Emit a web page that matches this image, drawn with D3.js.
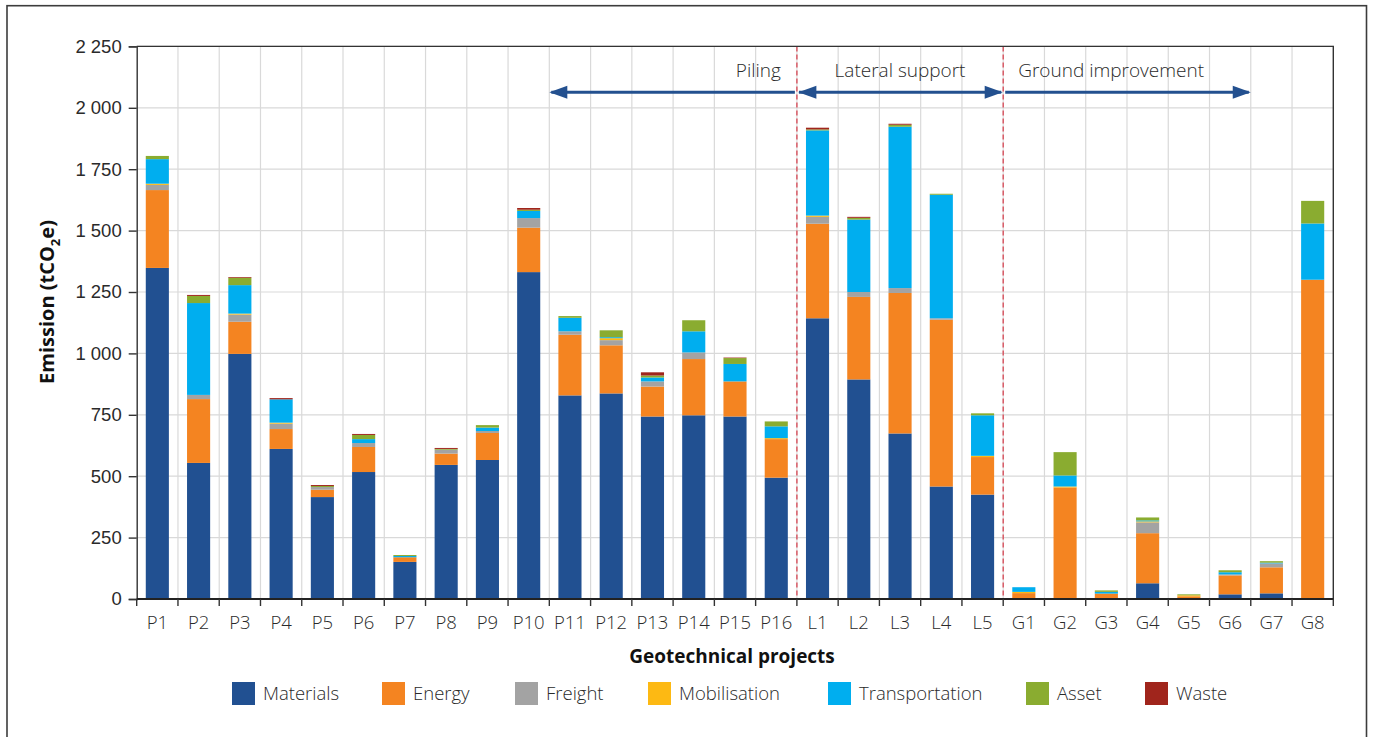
<!DOCTYPE html>
<html>
<head>
<meta charset="utf-8">
<script src="https://cdn.jsdelivr.net/npm/d3@7"></script>
<style>
  html, body { margin: 0; padding: 0; background: #fff; }
  svg { display: block; font-family: "Open Sans", "Noto Sans", sans-serif; }
</style>
</head>
<body>
<svg id="chart" width="1373" height="737"></svg>
<script>
// Geotechnical projects and emission breakdown (tCO2e)
const categories = ["P1","P2","P3","P4","P5","P6","P7","P8","P9","P10","P11","P12","P13","P14","P15","P16",
  "L1","L2","L3","L4","L5","G1","G2","G3","G4","G5","G6","G7","G8"];

const seriesNames = ["Materials","Energy","Freight","Mobilisation","Transportation","Asset","Waste"];
const seriesColors = ["#215091","#f48421","#a3a3a3","#fdb913","#00aeef","#8aac30","#a0251c"];

const materials      = [1348,554,998,611,415,517,151,546,566,1331,829,837,743,748,743,494,1143,894,674,458,425,0,0,0,64,0,19,23,0];
const energy         = [317,260,131,81,30,102,19,46,110,181,247,196,122,229,143,157,385,336,572,679,153,24,454,22,204,11,77,106,1300];
const freight        = [21,17,29,22,11,16,0,16,8,39,14,21,21,27,0,0,28,20,20,6,0,0,0,0,44,0,4,16,0];
const mobilisation   = [5,0,4,4,0,0,0,0,0,0,0,8,0,0,0,4,5,0,0,0,5,5,4,0,4,4,0,0,0];
const transportation = [100,374,116,95,0,16,5,0,14,29,55,4,16,86,71,48,347,295,657,503,165,19,45,7,4,0,9,3,229];
const asset          = [13,29,30,0,4,17,4,3,10,5,7,28,8,45,24,20,4,7,8,4,8,0,95,6,12,4,8,6,92];
const waste          = [0,4,3,5,4,4,0,4,0,7,0,0,13,0,2,0,7,4,4,0,0,0,0,0,0,0,0,0,0];

const yTicks = [0,250,500,750,1000,1250,1500,1750,2000,2250];

// Project groups: label, first and last category covered by the arrow
const groupNames  = ["Piling","Lateral support","Ground improvement"];
const groupRanges = [["P11","P16"],["L1","L5"],["G1","G6"]];

const seriesValues = [materials, energy, freight, mobilisation, transportation, asset, waste];
const rows = categories.map((c, i) => {
  const r = { category: c };
  seriesNames.forEach((s, k) => r[s] = seriesValues[k][i]);
  return r;
});

const svg = d3.select("#chart");
const M = { left: 136.7, right: 1333.3, top: 46.4, bottom: 599 };

const x = d3.scaleBand().domain(categories).range([M.left, M.right]).paddingInner(0.44).paddingOuter(0.22);
const y = d3.scaleLinear().domain([0, 2250]).range([M.bottom, M.top]);
const bx = i => M.left + i * (M.right - M.left) / categories.length;
const fmt = d3.formatLocale({ decimal: ".", thousands: " ", grouping: [3], currency: ["", ""] }).format(",d");

// Outer frame
svg.append("rect").attr("x", 7).attr("y", 5.7).attr("width", 1359.5).attr("height", 760)
  .attr("fill", "none").attr("stroke", "#3c3c3c").attr("stroke-width", 1.6);

// Grid
const grid = svg.append("g");
grid.selectAll("line.h").data(yTicks.slice(1)).join("line")
  .attr("x1", M.left).attr("x2", M.right).attr("y1", d => y(d)).attr("y2", d => y(d))
  .attr("stroke", "#d9d9d9").attr("stroke-width", 1.2);
grid.selectAll("line.v").data(d3.range(1, categories.length)).join("line")
  .attr("x1", i => bx(i)).attr("x2", i => bx(i)).attr("y1", M.top).attr("y2", M.bottom)
  .attr("stroke", "#d9d9d9").attr("stroke-width", 1.2);

// Stacked bars
const stack = d3.stack().keys(seriesNames)(rows);
svg.append("g").selectAll("g").data(stack).join("g")
  .attr("fill", (d, k) => seriesColors[k])
  .selectAll("rect").data(d => d).join("rect")
  .attr("x", d => x(d.data.category))
  .attr("width", x.bandwidth())
  .attr("y", d => y(d[1]))
  .attr("height", d => Math.max(0, y(d[0]) - y(d[1])));

// Group separators
const sepIdx = [categories.indexOf("L1"), categories.indexOf("G1")];
svg.append("g").selectAll("line").data(sepIdx).join("line")
  .attr("x1", i => bx(i)).attr("x2", i => bx(i)).attr("y1", M.top).attr("y2", M.bottom)
  .attr("stroke", "#d9525e").attr("stroke-width", 1.4).attr("stroke-dasharray", "5,3");

// Plot frame (top and right)
svg.append("path")
  .attr("d", `M${M.left},${M.top}H${M.right}V${M.bottom}`)
  .attr("fill", "none").attr("stroke", "#333").attr("stroke-width", 1.4);

// Y axis
const yAxis = svg.append("g").attr("transform", `translate(${M.left},0)`)
  .call(d3.axisLeft(y).tickValues(yTicks).tickFormat(fmt).tickSize(8).tickPadding(7));
yAxis.select(".domain").attr("stroke", "#333").attr("stroke-width", 1.4);
yAxis.selectAll(".tick line").attr("stroke", "#333").attr("stroke-width", 1.4);
yAxis.selectAll(".tick text").attr("font-size", 18.5).attr("fill", "#2a2a2a").attr("font-weight", 300);

// X axis: ticks at category boundaries
const xAxisG = svg.append("g");
xAxisG.append("line").attr("x1", M.left).attr("x2", M.right).attr("y1", M.bottom).attr("y2", M.bottom)
  .attr("stroke", "#222").attr("stroke-width", 2);
xAxisG.selectAll("line.t").data(d3.range(0, categories.length + 1)).join("line")
  .attr("x1", i => bx(i)).attr("x2", i => bx(i)).attr("y1", M.bottom).attr("y2", M.bottom + 7)
  .attr("stroke", "#333").attr("stroke-width", 1.4);
xAxisG.selectAll("text").data(categories).join("text")
  .attr("x", d => x(d) + x.bandwidth() / 2).attr("y", 629)
  .attr("text-anchor", "middle").attr("font-size", 18.5).attr("font-weight", 300).attr("fill", "#2a2a2a")
  .text(d => d);

// Axis titles
const yt = svg.append("text")
  .attr("transform", "translate(54,302) rotate(-90)")
  .attr("text-anchor", "middle").attr("font-size", 20).attr("font-weight", 700).attr("fill", "#111");
yt.append("tspan").text("Emission (tCO");
yt.append("tspan").attr("font-size", 13).attr("dy", 6).text("2");
yt.append("tspan").attr("dy", -6).text("e)");

svg.append("text").attr("x", 732).attr("y", 663).attr("text-anchor", "middle")
  .attr("font-size", 19).attr("font-weight", 700).attr("fill", "#111").text("Geotechnical projects");

// Group arrows
const arrowY = 92.3, arrowColor = "#23508f";
const gArr = svg.append("g");
function head(xTip, dir) {
  const L = 18, H = 6.5;
  gArr.append("path")
    .attr("d", `M${xTip},${arrowY}L${xTip - dir * L},${arrowY - H}L${xTip - dir * L},${arrowY + H}Z`)
    .attr("fill", arrowColor);
}
const ranges = groupRanges.map(([a, b]) => [bx(categories.indexOf(a)), bx(categories.indexOf(b) + 1)]);
ranges.forEach(([x0, x1]) => {
  gArr.append("line").attr("x1", x0 + 2).attr("x2", x1 - 2).attr("y1", arrowY).attr("y2", arrowY)
    .attr("stroke", arrowColor).attr("stroke-width", 3);
});
head(ranges[0][0], -1);
head(ranges[1][0] + 1.5, -1);
head(ranges[1][1] - 0.5, 1);
head(ranges[2][1], 1);

const labelAttrs = [
  { x: ranges[0][1] - 16, anchor: "end" },
  { x: (ranges[1][0] + ranges[1][1]) / 2, anchor: "middle" },
  { x: ranges[2][0] + 15, anchor: "start" }
];
svg.append("g").selectAll("text").data(groupNames).join("text")
  .attr("x", (d, i) => labelAttrs[i].x).attr("y", 77)
  .attr("text-anchor", (d, i) => labelAttrs[i].anchor)
  .attr("font-size", 19).attr("font-weight", 300).attr("fill", "#2a2a2a")
  .text(d => d);

// Legend
const legendX = [232, 382, 515, 648, 828, 1026, 1145];
const lg = svg.append("g").selectAll("g").data(seriesNames).join("g")
  .attr("transform", (d, i) => `translate(${legendX[i]},682)`);
lg.append("rect").attr("width", 23).attr("height", 23).attr("fill", (d, i) => seriesColors[i]);
lg.append("text").attr("x", 31).attr("y", 18).attr("font-size", 18.5).attr("font-weight", 300)
  .attr("fill", "#2a2a2a").text(d => d);
</script>
</body>
</html>
